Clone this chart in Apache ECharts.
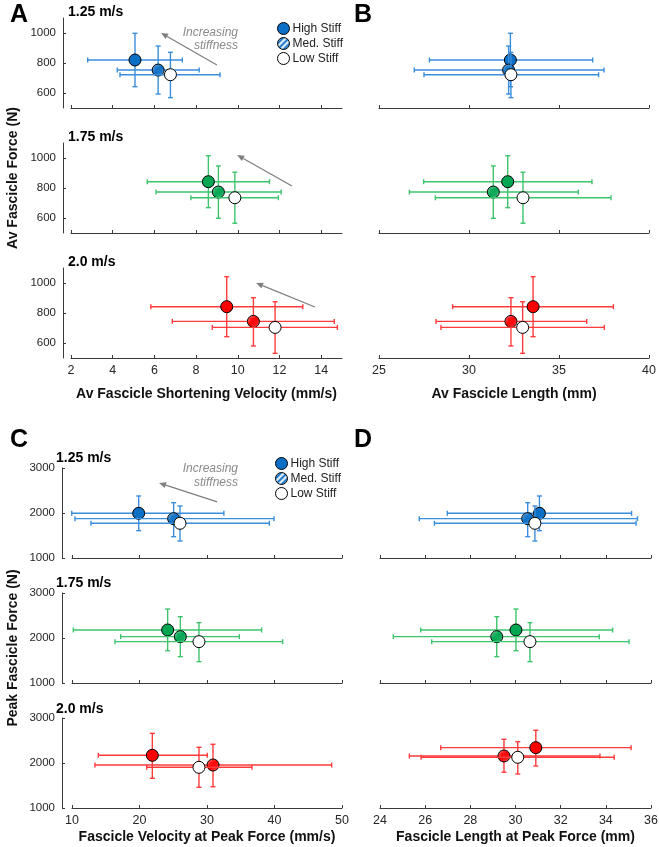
<!DOCTYPE html>
<html><head><meta charset="utf-8">
<script src="https://cdn.jsdelivr.net/npm/echarts@6/dist/echarts.min.js"></script>
<style>html,body{margin:0;padding:0;background:#fff}#c{width:659px;height:847px}</style>
</head><body><div id="c"></div>
<script>
// ---------- categories ----------
const conditions = ['High Stiff', 'Med. Stiff', 'Low Stiff'];
const speeds = ['1.25 m/s', '1.75 m/s', '2.0 m/s'];

// ---------- A: Av fascicle shortening velocity (mm/s) [high, med, low] ----------
const avVel125 = [5.07, 6.18, 6.77];   const avVel125Lo = [2.80, 4.22, 4.35];   const avVel125Hi = [7.34, 8.15, 9.15];
const avVel175 = [8.59, 9.07, 9.86];   const avVel175Lo = [5.66, 6.08, 7.75];   const avVel175Hi = [11.52, 12.08, 11.95];
const avVel200 = [9.47, 10.75, 11.79]; const avVel200Lo = [5.83, 6.86, 8.78];   const avVel200Hi = [13.12, 14.63, 14.78];

// ---------- Av fascicle force (N) ----------
const avForce125 = [820, 753, 722]; const avForce125Lo = [642, 593, 569]; const avForce125Hi = [998, 913, 871];
const avForce175 = [842, 773, 735]; const avForce175Lo = [669, 598, 565]; const avForce175Hi = [1015, 947, 905];
const avForce200 = [842, 744, 704]; const avForce200Lo = [642, 580, 531]; const avForce200Hi = [1042, 902, 875];

// ---------- B: Av fascicle length (mm) ----------
const avLen125 = [32.30, 32.20, 32.33]; const avLen125Lo = [27.80, 26.96, 27.50]; const avLen125Hi = [36.87, 37.50, 37.20];
const avLen175 = [32.15, 31.35, 33.00]; const avLen175Lo = [27.48, 26.69, 28.13]; const avLen175Hi = [36.83, 36.07, 37.89];
const avLen200 = [33.56, 32.33, 32.98]; const avLen200Lo = [29.09, 28.17, 28.44]; const avLen200Hi = [38.02, 36.54, 37.52];

// ---------- C: Fascicle velocity at peak force (mm/s) ----------
const pkVel125 = [19.88, 25.06, 26.00]; const pkVel125Lo = [9.96, 10.44, 12.81]; const pkVel125Hi = [32.5, 39.93, 39.23];
const pkVel175 = [24.17, 26.05, 28.81]; const pkVel175Lo = [10.20, 17.21, 16.37]; const pkVel175Hi = [38.10, 34.79, 41.21];
const pkVel200 = [21.90, 30.89, 28.81]; const pkVel200Lo = [13.90, 13.40, 21.06]; const pkVel200Hi = [30.04, 48.47, 36.67];

// ---------- Peak fascicle force (N) ----------
const pkForce125 = [1993, 1874, 1771]; const pkForce125Lo = [1607, 1474, 1378]; const pkForce125Hi = [2378, 2229, 2156];
const pkForce175 = [2178, 2030, 1919]; const pkForce175Lo = [1718, 1585, 1474]; const pkForce175Hi = [2644, 2474, 2341];
const pkForce200 = [2171, 1956, 1904]; const pkForce200Lo = [1660, 1473, 1460]; const pkForce200Hi = [2659, 2416, 2349];
const pkForceD200 = [2341, 2156, 2127]; const pkForceD200Lo = [1933, 1794, 1756]; const pkForceD200Hi = [2727, 2527, 2474];

// ---------- D: Fascicle length at peak force (mm) ----------
const pkLen125 = [31.06, 30.54, 30.86]; const pkLen125Lo = [26.98, 25.74, 26.41]; const pkLen125Hi = [35.14, 35.40, 35.34];
const pkLen175 = [30.02, 29.17, 30.64]; const pkLen175Lo = [25.80, 24.59, 26.29]; const pkLen175Hi = [34.30, 33.71, 35.03];
const pkLen200 = [30.90, 29.49, 30.10]; const pkLen200Lo = [26.69, 25.30, 25.82]; const pkLen200Hi = [35.12, 33.74, 34.37];

// ---------- tick values ----------
const ticksAvVel = [2, 4, 6, 8, 10, 12, 14];
const ticksAvForce = [600, 800, 1000];

// ---------- "Increasing stiffness" arrows (data coords: [x1, y1, x2, y2], head at end) ----------
const arrowA125 = [9.0, 787, 6.32, 1000];
const arrowA175 = [12.6, 813, 9.97, 1020];
const arrowA200 = [13.7, 840, 10.88, 1000];
const arrowC125 = [31.5, 2245, 22.9, 2667];

// ================= build =================
const FONT = '"Liberation Sans", Arial, sans-serif';
const rowColors = [
  {fill: '#0B6FC6', bar: '#3A8EDB'},
  {fill: '#00A651', bar: '#3DC46C'},
  {fill: '#FF0000', bar: '#FF3B3B'}
];
function hatch(color) {
  const s = 6, cv = document.createElement('canvas');
  cv.width = s; cv.height = s;
  const g = cv.getContext('2d');
  g.fillStyle = '#fff'; g.fillRect(0, 0, s, s);
  g.strokeStyle = color; g.lineWidth = 2.2;
  g.beginPath();
  g.moveTo(-1, s + 1); g.lineTo(s + 1, -1);
  g.moveTo(-2, 2); g.lineTo(2, -2);
  g.moveTo(s - 2, s + 2); g.lineTo(s + 2, s - 2);
  g.stroke();
  return {image: cv, repeat: 'repeat'};
}

const panels = [
  {x: [avVel125, avVel125Lo, avVel125Hi], y: [avForce125, avForce125Lo, avForce125Hi], arrow: arrowA125},
  {x: [avVel175, avVel175Lo, avVel175Hi], y: [avForce175, avForce175Lo, avForce175Hi], arrow: arrowA175},
  {x: [avVel200, avVel200Lo, avVel200Hi], y: [avForce200, avForce200Lo, avForce200Hi], arrow: arrowA200},
  {x: [avLen125, avLen125Lo, avLen125Hi], y: [avForce125, avForce125Lo, avForce125Hi]},
  {x: [avLen175, avLen175Lo, avLen175Hi], y: [avForce175, avForce175Lo, avForce175Hi]},
  {x: [avLen200, avLen200Lo, avLen200Hi], y: [avForce200, avForce200Lo, avForce200Hi]},
  {x: [pkVel125, pkVel125Lo, pkVel125Hi], y: [pkForce125, pkForce125Lo, pkForce125Hi], arrow: arrowC125},
  {x: [pkVel175, pkVel175Lo, pkVel175Hi], y: [pkForce175, pkForce175Lo, pkForce175Hi]},
  {x: [pkVel200, pkVel200Lo, pkVel200Hi], y: [pkForce200, pkForce200Lo, pkForce200Hi]},
  {x: [pkLen125, pkLen125Lo, pkLen125Hi], y: [pkForce125, pkForce125Lo, pkForce125Hi]},
  {x: [pkLen175, pkLen175Lo, pkLen175Hi], y: [pkForce175, pkForce175Lo, pkForce175Hi]},
  {x: [pkLen200, pkLen200Lo, pkLen200Hi], y: [pkForceD200, pkForceD200Lo, pkForceD200Hi]}
];

// layout
const colLeft = [[71, 379], [72, 380]];
const colWidth = [[271, 270], [270, 271]];
const rowTop = [[18, 143, 268], [468, 593, 718]];
const PH = 90;
const xTitles = [['Av Fascicle Shortening Velocity (mm/s)', 'Av Fascicle Length (mm)'],
                 ['Fascicle Velocity at Peak Force (mm/s)', 'Fascicle Length at Peak Force (mm)']];
const titleGap = [29, 22];

const axisLineStyle = {color: '#3a3a3a', width: 1};
const plain = v => String(v);
const grids = [], xAxes = [], yAxes = [], series = [];

panels.forEach((pn, p) => {
  const h = Math.floor(p / 6), c = Math.floor((p % 6) / 3), r = p % 3;
  grids.push({left: colLeft[h][c], top: rowTop[h][r], width: colWidth[h][c], height: PH, outerBoundsMode: 'none', containLabel: false});
  const xa = {
    type: 'value', gridIndex: p, position: 'bottom',
    axisLine: {show: true, onZero: false, lineStyle: axisLineStyle},
    axisTick: {show: true, inside: true, length: 3, lineStyle: axisLineStyle},
    axisLabel: {show: r === 2, color: '#262626', fontSize: 12.5, fontFamily: FONT, margin: 6, formatter: plain},
    splitLine: {show: false}
  };
  if (h === 0 && c === 0) {
    Object.assign(xa, {min: 2, max: 15});
    xa.axisTick.customValues = ticksAvVel; xa.axisLabel.customValues = ticksAvVel;
  } else if (h === 0 && c === 1) {
    Object.assign(xa, {min: 25, max: 40, interval: 5});
  } else if (h === 1 && c === 0) {
    Object.assign(xa, {min: 10, max: 50, interval: 10});
  } else {
    Object.assign(xa, {min: 24, max: 36, interval: 2});
  }
  if (r === 2) {
    Object.assign(xa, {name: xTitles[h][c], nameLocation: 'middle', nameGap: titleGap[h],
      nameTextStyle: {fontSize: 14, fontWeight: 'bold', color: '#111', fontFamily: FONT}});
  }
  xAxes.push(xa);
  const ya = {
    type: 'value', gridIndex: p, show: c === 0, offset: h === 0 ? 8 : 10,
    axisLine: {show: true, lineStyle: axisLineStyle},
    axisTick: {show: true, inside: true, length: 3, lineStyle: axisLineStyle},
    axisLabel: {color: '#262626', fontSize: 11.5, fontFamily: FONT, margin: 7, formatter: plain},
    splitLine: {show: false}
  };
  if (h === 0) {
    Object.assign(ya, {min: 500, max: 1100});
    ya.axisTick.customValues = ticksAvForce; ya.axisLabel.customValues = ticksAvForce;
  } else {
    Object.assign(ya, {min: 1000, max: 3000, interval: 1000});
  }
  yAxes.push(ya);

  const col = rowColors[r];
  if (pn.arrow) {
    series.push({
      type: 'custom', xAxisIndex: p, yAxisIndex: p, z: 1, silent: true,
      encode: {x: [0, 2], y: [1, 3]},
      data: [pn.arrow],
      renderItem: function (params, api) {
        const a = api.coord([api.value(0), api.value(1)]);
        const b = api.coord([api.value(2), api.value(3)]);
        const dx = b[0] - a[0], dy = b[1] - a[1], L = Math.hypot(dx, dy);
        const ux = dx / L, uy = dy / L, hl = 7, hw = 3;
        const bx = b[0] - ux * hl, by = b[1] - uy * hl;
        return {type: 'group', children: [
          {type: 'line', shape: {x1: a[0], y1: a[1], x2: bx, y2: by}, style: {stroke: '#7f7f7f', lineWidth: 1.3}},
          {type: 'polygon', shape: {points: [[b[0], b[1]], [bx - uy * hw, by + ux * hw], [bx + uy * hw, by - ux * hw]]},
           style: {fill: '#7f7f7f'}}
        ]};
      }
    });
  }
  for (let i = 0; i < 3; i++) {
    series.push({
      type: 'custom', xAxisIndex: p, yAxisIndex: p, z: 2 + 2 * i, silent: true,
      encode: {x: 0, y: 1},
      data: [[pn.x[0][i], pn.y[0][i], pn.x[1][i], pn.x[2][i], pn.y[1][i], pn.y[2][i]]],
      renderItem: function (params, api) {
        const x = api.value(0), y = api.value(1);
        const pL = api.coord([api.value(2), y]), pR = api.coord([api.value(3), y]);
        const pB = api.coord([x, api.value(4)]), pT = api.coord([x, api.value(5)]);
        const cap = 2.5;
        const st = {stroke: col.bar, lineWidth: 1.4, fill: null};
        const ln = (x1, y1, x2, y2) => ({type: 'line', shape: {x1, y1, x2, y2}, style: st});
        return {type: 'group', children: [
          ln(pL[0], pL[1], pR[0], pR[1]),
          ln(pL[0], pL[1] - cap, pL[0], pL[1] + cap),
          ln(pR[0], pR[1] - cap, pR[0], pR[1] + cap),
          ln(pT[0], pT[1], pB[0], pB[1]),
          ln(pT[0] - cap, pT[1], pT[0] + cap, pT[1]),
          ln(pB[0] - cap, pB[1], pB[0] + cap, pB[1])
        ]};
      }
    });
    series.push({
      type: 'scatter', name: conditions[i], xAxisIndex: p, yAxisIndex: p, z: 3 + 2 * i,
      symbol: 'circle', symbolSize: 12, silent: true,
      data: [[pn.x[0][i], pn.y[0][i]]],
      itemStyle: {color: i === 0 ? col.fill : (i === 1 ? hatch(col.fill) : '#ffffff'),
                  borderColor: '#000', borderWidth: 1, opacity: 1}
    });
  }
});

const legendBase = {
  orient: 'vertical', selectedMode: false, itemWidth: 12, itemHeight: 12, itemGap: 2, padding: 0,
  icon: 'circle', data: conditions,
  itemStyle: {borderColor: '#000', borderWidth: 1},
  textStyle: {fontSize: 12, color: '#222', fontFamily: FONT, padding: [0, 0, 0, -2]}
};

const txt = (text, x, y, font, color, extra) => ({
  type: 'text', x, y, silent: true,
  style: Object.assign({text, font, fill: color || '#000', textVerticalAlign: 'middle'}, extra || {})
});

const graphics = [
  txt('A', 10, 15, 'bold 25px ' + FONT),
  txt('B', 354, 15, 'bold 25px ' + FONT),
  txt('C', 10, 440, 'bold 25px ' + FONT),
  txt('D', 354, 440, 'bold 25px ' + FONT),
  txt(speeds[0], 68, 12, 'bold 14px ' + FONT),
  txt(speeds[1], 68, 137, 'bold 14px ' + FONT),
  txt(speeds[2], 68, 262, 'bold 14px ' + FONT),
  txt(speeds[0], 56, 458, 'bold 14px ' + FONT),
  txt(speeds[1], 56, 583, 'bold 14px ' + FONT),
  txt(speeds[2], 56, 709, 'bold 14px ' + FONT),
  txt('Increasing', 238, 33, 'italic 12px ' + FONT, '#8a8a8a', {textAlign: 'right'}),
  txt('stiffness', 238, 46, 'italic 12px ' + FONT, '#8a8a8a', {textAlign: 'right'}),
  txt('Increasing', 238, 469, 'italic 12px ' + FONT, '#8a8a8a', {textAlign: 'right'}),
  txt('stiffness', 238, 483, 'italic 12px ' + FONT, '#8a8a8a', {textAlign: 'right'}),
  {type: 'text', x: 13, y: 178, rotation: Math.PI / 2, silent: true,
   style: {text: 'Av Fascicle Force (N)', font: 'bold 14px ' + FONT, fill: '#111', textAlign: 'center', textVerticalAlign: 'middle'}},
  {type: 'text', x: 13, y: 648, rotation: Math.PI / 2, silent: true,
   style: {text: 'Peak Fascicle Force (N)', font: 'bold 14px ' + FONT, fill: '#111', textAlign: 'center', textVerticalAlign: 'middle'}}
];

const chart = echarts.init(document.getElementById('c'), null, {renderer: 'canvas'});
chart.setOption({
  backgroundColor: '#fff',
  animation: false,
  grid: grids, xAxis: xAxes, yAxis: yAxes, series,
  legend: [
    Object.assign({}, legendBase, {left: 277, top: 22}),
    Object.assign({}, legendBase, {left: 275, top: 457})
  ],
  graphic: graphics
});
</script></body></html>
